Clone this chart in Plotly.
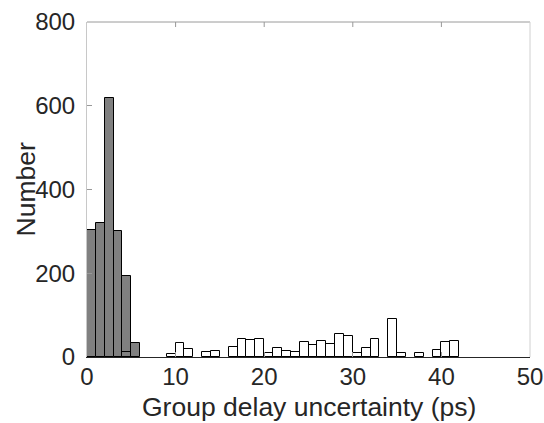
import plotly.graph_objects as go

# Histogram bin edges (ps) and counts
bin_width = 1.0
gray_bins = [0, 1, 2, 3, 4, 5]           # left edges
gray_counts = [303, 320, 618, 301, 194, 34]

white_bins = [4, 9, 10, 11, 13, 14, 16, 17, 18, 19, 20, 21, 22, 23, 24, 25, 26,
              27, 28, 29, 30, 31, 32, 34, 35, 37, 39, 40, 41]
white_counts = [11, 7, 33, 20, 12, 14, 24, 43, 40, 42, 10, 21, 14, 12, 36, 29, 38,
                32, 55, 50, 10, 21, 43, 91, 10, 9, 17, 35, 38]

x_ticks = [0, 10, 20, 30, 40, 50]
y_ticks = [0, 200, 400, 600, 800]
x_title = "Group delay uncertainty (ps)"
y_title = "Number"

fig = go.Figure()
fig.add_trace(go.Bar(
    x=[b + bin_width / 2 for b in gray_bins], y=gray_counts, width=bin_width,
    marker=dict(color="#808080", line=dict(color="#000000", width=1)),
    showlegend=False))
fig.add_trace(go.Bar(
    x=[b + bin_width / 2 for b in white_bins], y=white_counts, width=bin_width,
    marker=dict(color="rgba(255,255,255,0)", line=dict(color="#000000", width=1)),
    showlegend=False))

font_family = "Liberation Sans, Arial, sans-serif"
fig.update_layout(
    width=544, height=423,
    margin=dict(l=87, r=14, t=22, b=66),
    paper_bgcolor="white", plot_bgcolor="white",
    barmode="overlay", bargap=0,
    font=dict(family=font_family, color="#262626", size=24),
    xaxis=dict(range=[0, 50], tickvals=x_ticks, ticks="inside", ticklen=5,
               tickcolor="#999999", showgrid=False, zeroline=False,
               showline=True, linecolor="#262626", linewidth=1,
               tickfont=dict(size=24), ticklabelstandoff=-2, automargin=False),
    yaxis=dict(range=[0, 800], tickvals=y_ticks, ticks="inside", ticklen=5,
               tickcolor="#999999", showgrid=False, zeroline=False,
               showline=True, linecolor="#c8c8c8", linewidth=1,
               tickfont=dict(size=24), ticklabelstandoff=6, automargin=False),
    annotations=[
        dict(text=x_title, xref="paper", yref="paper", x=0.5, y=0,
             xanchor="center", yanchor="top", yshift=-33, showarrow=False,
             font=dict(size=26.5)),
        dict(text=y_title, xref="paper", yref="paper", x=0, y=0.5,
             xanchor="center", yanchor="middle", xshift=-62, textangle=-90,
             showarrow=False, font=dict(size=26.5)),
    ],
)
# box frame: top and right edges
fig.add_shape(type="line", xref="paper", yref="paper", x0=0, x1=1, y0=1, y1=1,
              line=dict(color="#9a9a9a", width=1))
fig.add_shape(type="line", xref="paper", yref="paper", x0=1, x1=1, y0=0, y1=1,
              line=dict(color="#d0d0d0", width=1))
for t in x_ticks[1:-1]:
    fig.add_shape(type="line", xref="x", yref="paper", x0=t, x1=t, y0=1, y1=0.985,
                  line=dict(color="#999999", width=1))

fig.write_html("out.html")
